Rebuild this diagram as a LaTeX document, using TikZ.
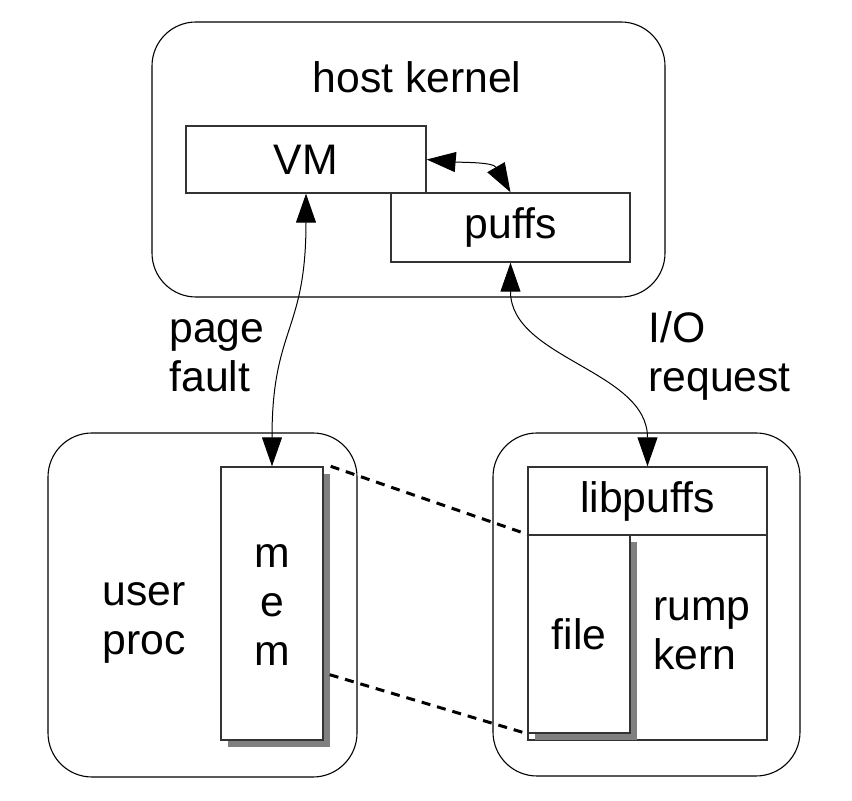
\documentclass[tikz,border=0pt]{standalone}
\usepackage{fontspec}
\setmainfont{Liberation Sans}
\usepackage{tikz}
\usetikzlibrary{arrows.meta,calc,shadows}

\begin{document}
\begin{tikzpicture}[x=0.5pt,y=-0.5pt,
	font=\fontsize{21.35}{24.5}\selectfont,
	box/.style={draw=black!80,line width=0.7pt,fill=white,inner sep=0pt},
	shbox/.style={box,drop shadow={shadow xshift=3.5pt,shadow yshift=-3.5pt,fill=black!50,opacity=1}},
	rbox/.style={draw,line width=0.55pt,rounded corners=22pt,inner sep=0pt},
	txt/.style={inner sep=0pt,align=left,anchor=base west},
	dbl/.style={{Triangle[length=14.5pt,width=10pt]}-{Triangle[length=14.5pt,width=10pt]},line width=0.5pt},
	dsh/.style={dash pattern=on 4.5pt off 3.5pt,line width=1.5pt}
	]
	\useasboundingbox (0,0) rectangle (852,801);
	
	\node[rbox,minimum width=256.5pt,minimum height=137.5pt] (host) at (408.5,159.5) {};
	\node (hosttxt) at (417,77.5) {host kernel};
	\node[box,minimum width=120pt,minimum height=33.5pt] (vm) at (306,159.5) {VM};
	\node[box,minimum width=119.5pt,minimum height=34.5pt] (puffs) at (510.5,227.5) {puffs};
	
	\node[rbox,minimum width=154.5pt,minimum height=172pt] (user) at (202.5,605) {};
	\node[txt] (usertxt) at (102,655) {user\\proc};
	\node[shbox,minimum width=51pt,minimum height=136.5pt] (mem) at (272,603.5) {};
	\node[txt,align=center,anchor=base] (memtxt) at (272,666) {m\\e\\m};
	
	\node[rbox,minimum width=153.5pt,minimum height=171.5pt] (srv) at (646.5,604.5) {};
	\node[box,minimum width=119.5pt,minimum height=34pt] (libp) at (647.5,501) {libpuffs};
	\node[box,minimum width=119.5pt,minimum height=102.5pt] (rump) at (647.5,637.5) {};
	\node[txt] (rumptxt) at (653,670) {rump\\kern};
	\node[shbox,minimum width=51pt,minimum height=99pt] (file) at (579,634) {file};
	
	\node[txt] (pf) at (169,392) {page\\fault};
	\node[txt] (io) at (648,392) {I/O\\request};
	
	\draw[dbl] (vm.east) to[out=-5,in=120] (puffs.north);
	\draw[dbl] (vm.south) to[out=-90,in=90,looseness=1.3] (mem.north);
	\draw[dbl] (puffs.south) to[out=-90,in=90] (libp.north);
	
	\draw[dsh] ([xshift=3.5pt]mem.north east) -- (file.north west);
	\draw[dsh] ([shift={(3pt,33pt)}]mem.south east) -- (file.south west);
\end{tikzpicture}
\end{document}
